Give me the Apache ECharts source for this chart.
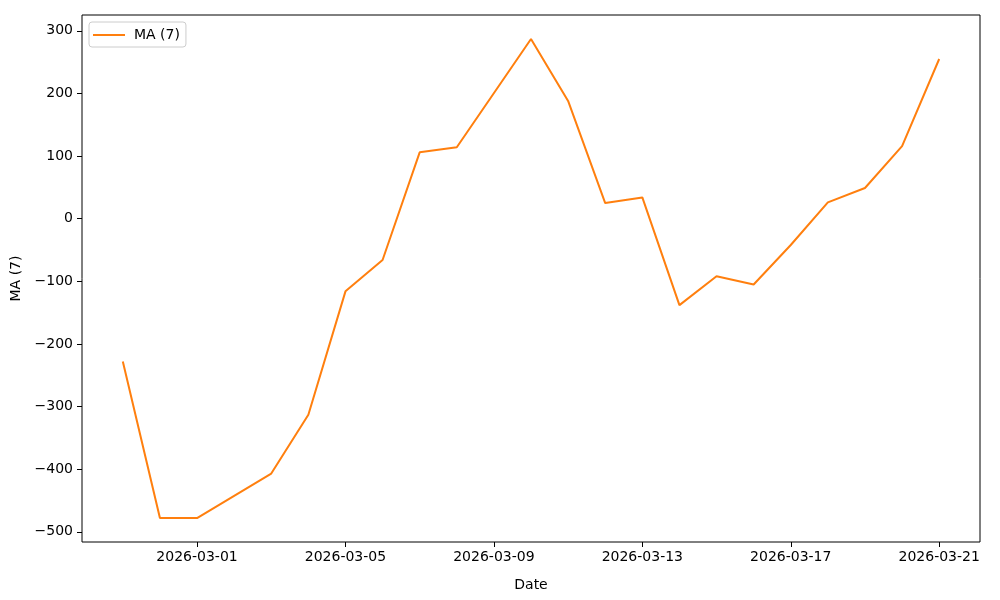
<!DOCTYPE html>
<html>
<head>
<meta charset="utf-8">
<script src="https://cdn.jsdelivr.net/npm/echarts@6/dist/echarts.min.js"></script>
<style>
  html, body { margin: 0; padding: 0; background: #fff; }
  #main { width: 1000px; height: 600px; }
</style>
</head>
<body>
<div id="main"></div>
<script>
// data
const dates = ['2026-02-27', '2026-02-28', '2026-03-01', '2026-03-03', '2026-03-04', '2026-03-05',
               '2026-03-06', '2026-03-07', '2026-03-08', '2026-03-10', '2026-03-11', '2026-03-12',
               '2026-03-13', '2026-03-14', '2026-03-15', '2026-03-16', '2026-03-17', '2026-03-18',
               '2026-03-19', '2026-03-20', '2026-03-21'];
const maValues = [-228, -478, -478, -407, -313, -116,
                  -66, 106, 114, 287, 188, 25,
                  34, -138, -92, -105, -42, 26,
                  49, 116, 255];
const xTickLabels = ['2026-03-01', '2026-03-05', '2026-03-09', '2026-03-13', '2026-03-17', '2026-03-21'];
const yTicks = [-500, -400, -300, -200, -100, 0, 100, 200, 300];

const DAY = 86400000;
const toDay = s => Date.parse(s) / DAY;
const fromDay = d => new Date(Math.round(d) * DAY).toISOString().slice(0, 10);

const dayNums = dates.map(toDay);
const span = dayNums[dayNums.length - 1] - dayNums[0];
const xMin = dayNums[0] - span * 0.05;
const xMax = dayNums[dayNums.length - 1] + span * 0.05;
const yLo = Math.min(...maValues), yHi = Math.max(...maValues);
const yMin = yLo - (yHi - yLo) * 0.05;
const yMax = yHi + (yHi - yLo) * 0.05;

const font = 'DejaVu Sans';
const minus = v => String(v).replace('-', '\u2212');

let option = {
    animation: false,
    textStyle: {fontFamily: font},
    grid: {
        left: 82, right: 20, top: 15, bottom: 58,
        show: true, borderColor: '#000', borderWidth: 1
    },
    legend: {
        left: 89, top: 22,
        data: ['MA (7)'],
        icon: 'path://M0,0 L32,0 L32,2 L0,2 Z',
        itemWidth: 32, itemHeight: 2, itemGap: 8,
        padding: [6, 6, 5, 4],
        borderColor: '#ccc', borderWidth: 1, borderRadius: 3,
        textStyle: {fontFamily: font, fontSize: 14, color: '#000', padding: [0, 0, 0, 4]}
    },
    xAxis: {
        type: 'value',
        min: xMin, max: xMax,
        name: 'Date', nameLocation: 'middle', nameGap: 36,
        nameTextStyle: {fontFamily: font, fontSize: 14, color: '#000'},
        splitLine: {show: false},
        axisLine: {show: false, onZero: false},
        axisTick: {show: true, inside: false, length: 5, lineStyle: {color: '#000'},
                   customValues: xTickLabels.map(toDay)},
        axisLabel: {fontFamily: font, fontSize: 14, color: '#000', margin: 8,
                    customValues: xTickLabels.map(toDay), formatter: v => fromDay(v)}
    },
    yAxis: {
        type: 'value',
        min: yMin, max: yMax,
        name: 'MA (7)', nameLocation: 'middle', nameGap: 51, nameRotate: 90,
        nameTextStyle: {fontFamily: font, fontSize: 14, color: '#000'},
        splitLine: {show: false},
        axisLine: {show: false, onZero: false},
        axisTick: {show: true, inside: false, length: 5, lineStyle: {color: '#000'},
                   customValues: yTicks},
        axisLabel: {fontFamily: font, fontSize: 14, color: '#000', margin: 9,
                    padding: [3, 0, 0, 0],
                    customValues: yTicks, formatter: v => minus(v)}
    },
    series: [{
        name: 'MA (7)',
        type: 'line',
        data: dayNums.map((d, i) => [d, maValues[i]]),
        showSymbol: false,
        lineStyle: {color: '#ff7f0e', width: 2},
        itemStyle: {color: '#ff7f0e'}
    }]
};

let myChart = echarts.init(document.getElementById('main'));
myChart.setOption(option);
</script>
</body>
</html>
